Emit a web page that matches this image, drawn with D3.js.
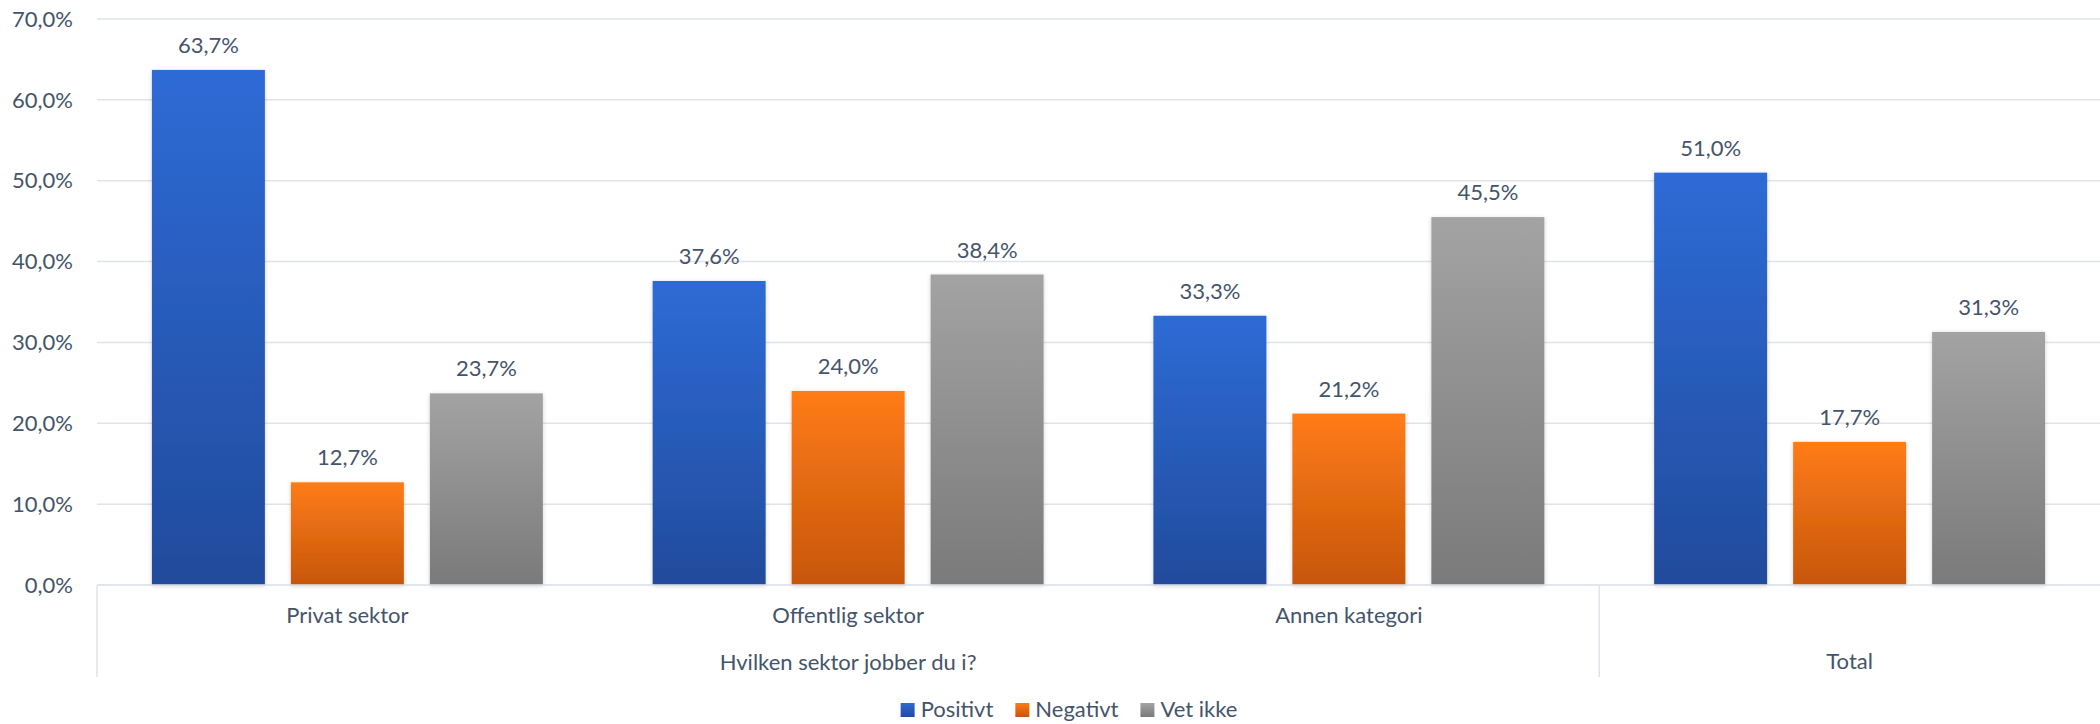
<!DOCTYPE html>
<html>
<head>
<meta charset="utf-8">
<script src="https://cdn.jsdelivr.net/npm/d3@7"></script>
<style>
  html, body { margin: 0; padding: 0; background: #ffffff; }
  svg { display: block; }
  text { font-family: Lato, "Open Sans", sans-serif; fill: #44546a; }
</style>
</head>
<body>
<svg id="chart" width="2100" height="724"></svg>
<script>
// ---- data ----
const categories = ["Privat sektor", "Offentlig sektor", "Annen kategori", "Total"];
const parentGroups = [
  { label: "Hvilken sektor jobber du i?", members: ["Privat sektor", "Offentlig sektor", "Annen kategori"] },
  { label: "Total", members: ["Total"] }
];
const seriesNames = ["Positivt", "Negativt", "Vet ikke"];
const positivt = [63.7, 37.6, 33.3, 51.0];
const negativt = [12.7, 24.0, 21.2, 17.7];
const vetIkke  = [23.7, 38.4, 45.5, 31.3];
const yTicks = [0, 10, 20, 30, 40, 50, 60, 70];

const seriesValues = [positivt, negativt, vetIkke];
const gradients = [
  ["#2e6bd6", "#214b9c"],
  ["#ff7c16", "#c6560d"],
  ["#a3a3a3", "#7a7a7a"]
];

const svg = d3.select("#chart");
const plotLeft = 97, plotRight = 2100, plotTop = 19, plotBottom = 585;
const fontSize = 22;

const defs = svg.append("defs");
gradients.forEach((g, i) => {
  const lg = defs.append("linearGradient").attr("id", "grad" + i)
    .attr("x1", 0).attr("y1", 0).attr("x2", 0).attr("y2", 1);
  lg.append("stop").attr("offset", "0%").attr("stop-color", g[0]);
  lg.append("stop").attr("offset", "100%").attr("stop-color", g[1]);
});
const f = defs.append("filter").attr("id", "shadow")
  .attr("x", "-10%").attr("y", "-10%").attr("width", "120%").attr("height", "120%");
f.append("feDropShadow").attr("dx", 0).attr("dy", 1).attr("stdDeviation", 2)
  .attr("flood-color", "#000").attr("flood-opacity", 0.18);

const y = d3.scaleLinear().domain([0, 70]).range([plotBottom, plotTop]);
const x0 = d3.scaleBand().domain(categories).range([plotLeft, plotRight]).padding(0);
const x1 = d3.scaleBand().domain(seriesNames).range([0, x0.bandwidth()])
  .paddingInner(0.187).paddingOuter(0.395);

const fmt = v => d3.format(".1f")(v).replace(".", ",") + "%";

// gridlines
svg.append("g").selectAll("line").data(yTicks).join("line")
  .attr("x1", plotLeft).attr("x2", plotRight)
  .attr("y1", d => y(d)).attr("y2", d => y(d))
  .attr("stroke", "#e0e4e9").attr("stroke-width", 1.5);

// y tick labels
svg.append("g").selectAll("text").data(yTicks).join("text")
  .attr("x", 73).attr("y", d => y(d))
  .attr("dy", "0.35em")
  .attr("text-anchor", "end")
  .attr("font-size", fontSize)
  .text(d => fmt(d));

// bars
const rows = [];
categories.forEach((c, ci) => {
  seriesNames.forEach((s, si) => {
    rows.push({ cat: c, series: s, si: si, value: seriesValues[si][ci] });
  });
});

svg.append("g").selectAll("rect").data(rows).join("rect")
  .attr("x", d => x0(d.cat) + x1(d.series))
  .attr("y", d => y(d.value))
  .attr("width", x1.bandwidth())
  .attr("height", d => y(0) - y(d.value))
  .attr("fill", d => "url(#grad" + d.si + ")")
  .attr("filter", "url(#shadow)");

// data labels
svg.append("g").selectAll("text").data(rows).join("text")
  .attr("x", d => x0(d.cat) + x1(d.series) + x1.bandwidth() / 2)
  .attr("y", d => y(d.value) - 17)
  .attr("text-anchor", "middle")
  .attr("font-size", fontSize)
  .text(d => fmt(d.value));

// category axis (multi-level)
const axisG = svg.append("g");
axisG.append("line").attr("x1", plotLeft).attr("x2", plotRight)
  .attr("y1", plotBottom).attr("y2", plotBottom)
  .attr("stroke", "#e0e4e9").attr("stroke-width", 1.5);

const multi = parentGroups.filter(p => p.members.length > 1).flatMap(p => p.members);
axisG.selectAll("text.l1").data(multi).join("text").attr("class", "l1")
  .attr("x", d => x0(d) + x0.bandwidth() / 2)
  .attr("y", 623)
  .attr("text-anchor", "middle")
  .attr("font-size", fontSize)
  .text(d => d);

axisG.selectAll("text.l2").data(parentGroups).join("text").attr("class", "l2")
  .attr("x", d => (x0(d.members[0]) + x0(d.members[d.members.length - 1]) + x0.bandwidth()) / 2)
  .attr("y", d => d.members.length > 1 ? 670 : 669)
  .attr("text-anchor", "middle")
  .attr("font-size", fontSize)
  .text(d => d.label);

const sepX = [plotLeft].concat(parentGroups.slice(1).map(p => x0(p.members[0])));
axisG.selectAll("line.sep").data(sepX).join("line").attr("class", "sep")
  .attr("x1", d => d).attr("x2", d => d)
  .attr("y1", plotBottom).attr("y2", 677)
  .attr("stroke", "#e0e4e9").attr("stroke-width", 1.5);

// legend
const legend = svg.append("g");
const items = legend.selectAll("g").data(seriesNames).join("g");
items.append("rect").attr("width", 14).attr("height", 14).attr("y", 703)
  .attr("fill", (d, i) => "url(#grad" + i + ")");
items.append("text").attr("x", 20).attr("y", 717)
  .attr("font-size", fontSize).text(d => d);
let widths = [];
items.each(function() { widths.push(20 + d3.select(this).select("text").node().getComputedTextLength()); });
const gap = 22;
const total = d3.sum(widths) + gap * (widths.length - 1);
let cx = 1069 - total / 2;
items.attr("transform", (d, i) => {
  const t = "translate(" + cx + ",0)";
  cx += widths[i] + gap;
  return t;
});
</script>
</body>
</html>
